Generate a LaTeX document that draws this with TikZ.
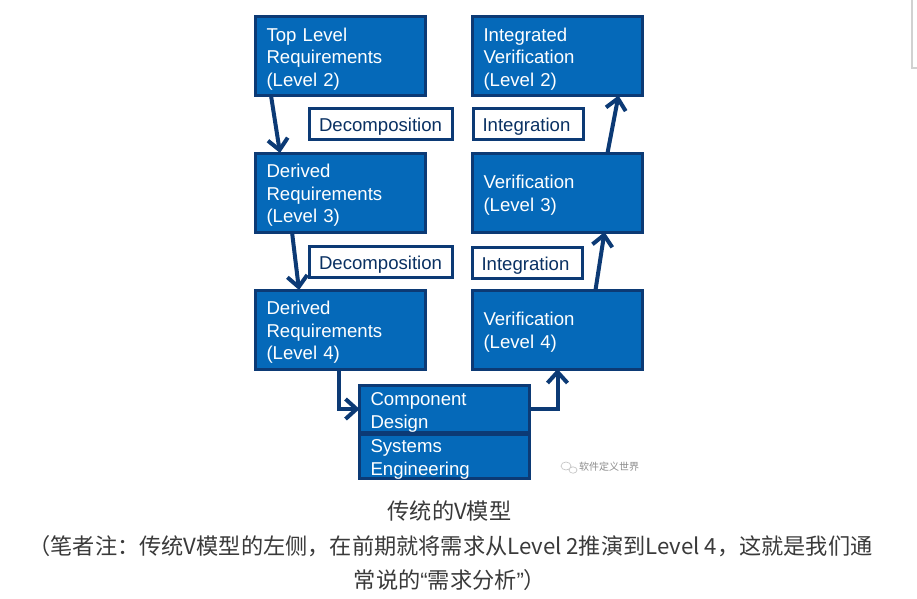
\documentclass[tikz,border=0pt]{standalone}
\usepackage{fontspec}
\setmainfont{Liberation Sans}
\newfontfamily\cjk{Noto Sans CJK SC}
\usetikzlibrary{arrows.meta,calc}
\definecolor{boxfill}{HTML}{0569B9}
\definecolor{navy}{HTML}{0C3A75}
\definecolor{captxt}{HTML}{3A3A3A}
\newcommand{\lns}[1]{\leavevmode\raisebox{-7.5pt}[0pt][0pt]{\begin{tabular}[c]{@{}l@{}}#1\end{tabular}}}
\tikzset{
  x=1pt,y=-1pt,
  box/.style={draw=navy,fill=boxfill,line width=3pt,text=white,align=left,anchor=center,
    minimum width=168pt,minimum height=79pt,text width=148pt,inner xsep=11pt,inner ysep=0pt,outer sep=0pt,
    font=\fontsize{18.6}{22.7}\selectfont},
  tag/.style={draw=navy,fill=white,line width=3pt,text=navy!85!black,anchor=center,align=left,
    minimum height=31pt,inner ysep=0pt,inner xsep=0pt,outer sep=0pt,font=\fontsize{18.6}{22.7}\selectfont},
  link/.style={draw=navy,line width=4pt,-{Straight Barb[length=11pt,width=20pt,line width=4pt]}},
  captext/.style={anchor=center,text=captxt,inner sep=0pt,font=\cjk\fontsize{22.2}{26}\selectfont},
}
\begin{document}
\begin{tikzpicture}
\useasboundingbox (0,0) rectangle (917,598);
\fill[white] (0,0) rectangle (917,598);
\draw[line width=1.5pt,black!18] (917,68) -- (912,68) -- (912,0);
% left column
\node[box] (top) at (340.5,56) {\lns{Top Level\\Requirements\\(Level 2)}};
\node[box] (d3) at (340.5,192.5) {\lns{Derived\\Requirements\\(Level 3)}};
\node[box] (d4) at (340.5,329.5) {\lns{Derived\\Requirements\\(Level 4)}};
% right column
\node[box] (iv) at (557.5,56) {\lns{Integrated\\Verification\\(Level 2)}};
\node[box] (v3) at (557.5,192.5) {\lns{Verification\\(Level 3)}};
\node[box] (v4) at (557.5,329.5) {\lns{Verification\\(Level 4)}};
% bottom
\node[box,minimum height=46.5pt] (cd) at (444.5,409) {\lns{Component\\Design}};
\node[box,minimum height=43.5pt] (se) at (444.5,456.5) {\lns{Systems\\Engineering}};
% tags
\node[tag,minimum width=143pt,text width=124pt] (dec1) at (381,124) {\lns{Decomposition}};
\node[tag,minimum width=143pt,text width=124pt] (dec2) at (381,262) {\lns{Decomposition}};
\node[tag,minimum width=110pt,text width=92pt] (int1) at (528.5,124) {\lns{Integration}};
\node[tag,minimum width=110pt,text width=92pt] (int2) at (527.5,262.5) {\lns{Integration}};
% connectors
\draw[link] ([xshift=15.5pt]top.south west) -- ([xshift=24.5pt]d3.north west);
\draw[link] ([xshift=36.5pt]d3.south west) -- ([xshift=43.5pt]d4.north west);
\draw[link] ([xshift=83.5pt]d4.south west) |- (cd.west);
\draw[link] (cd.east) -| (v4.south);
\draw[link] ([xshift=-47pt]v4.north east) -- ([xshift=-38pt]v3.south east);
\draw[link] ([xshift=-35pt]v3.north east) -- ([xshift=-24pt]iv.south east);
% watermark
\node[inner sep=0pt,anchor=center,text=black!45,font=\cjk\fontsize{10}{12}\selectfont] (wm) at (609,467) {软件定义世界};
\draw[black!22,line width=.7pt] (566,466) ellipse (5pt and 4pt) (573,470) ellipse (4pt and 3.2pt);
% caption
\node[captext] (c1) at (449.5,511.5) {传统的V模型};
\node[captext] (c2) at (450.5,546.5) {（笔者注：传统V模型的左侧，在前期就将需求从Level 2推演到Level 4，这就是我们通};
\node[captext] (c3) at (450,580.5) {常说的{\rmfamily “}需求分析{\rmfamily ”}）};
\end{tikzpicture}
\end{document}
